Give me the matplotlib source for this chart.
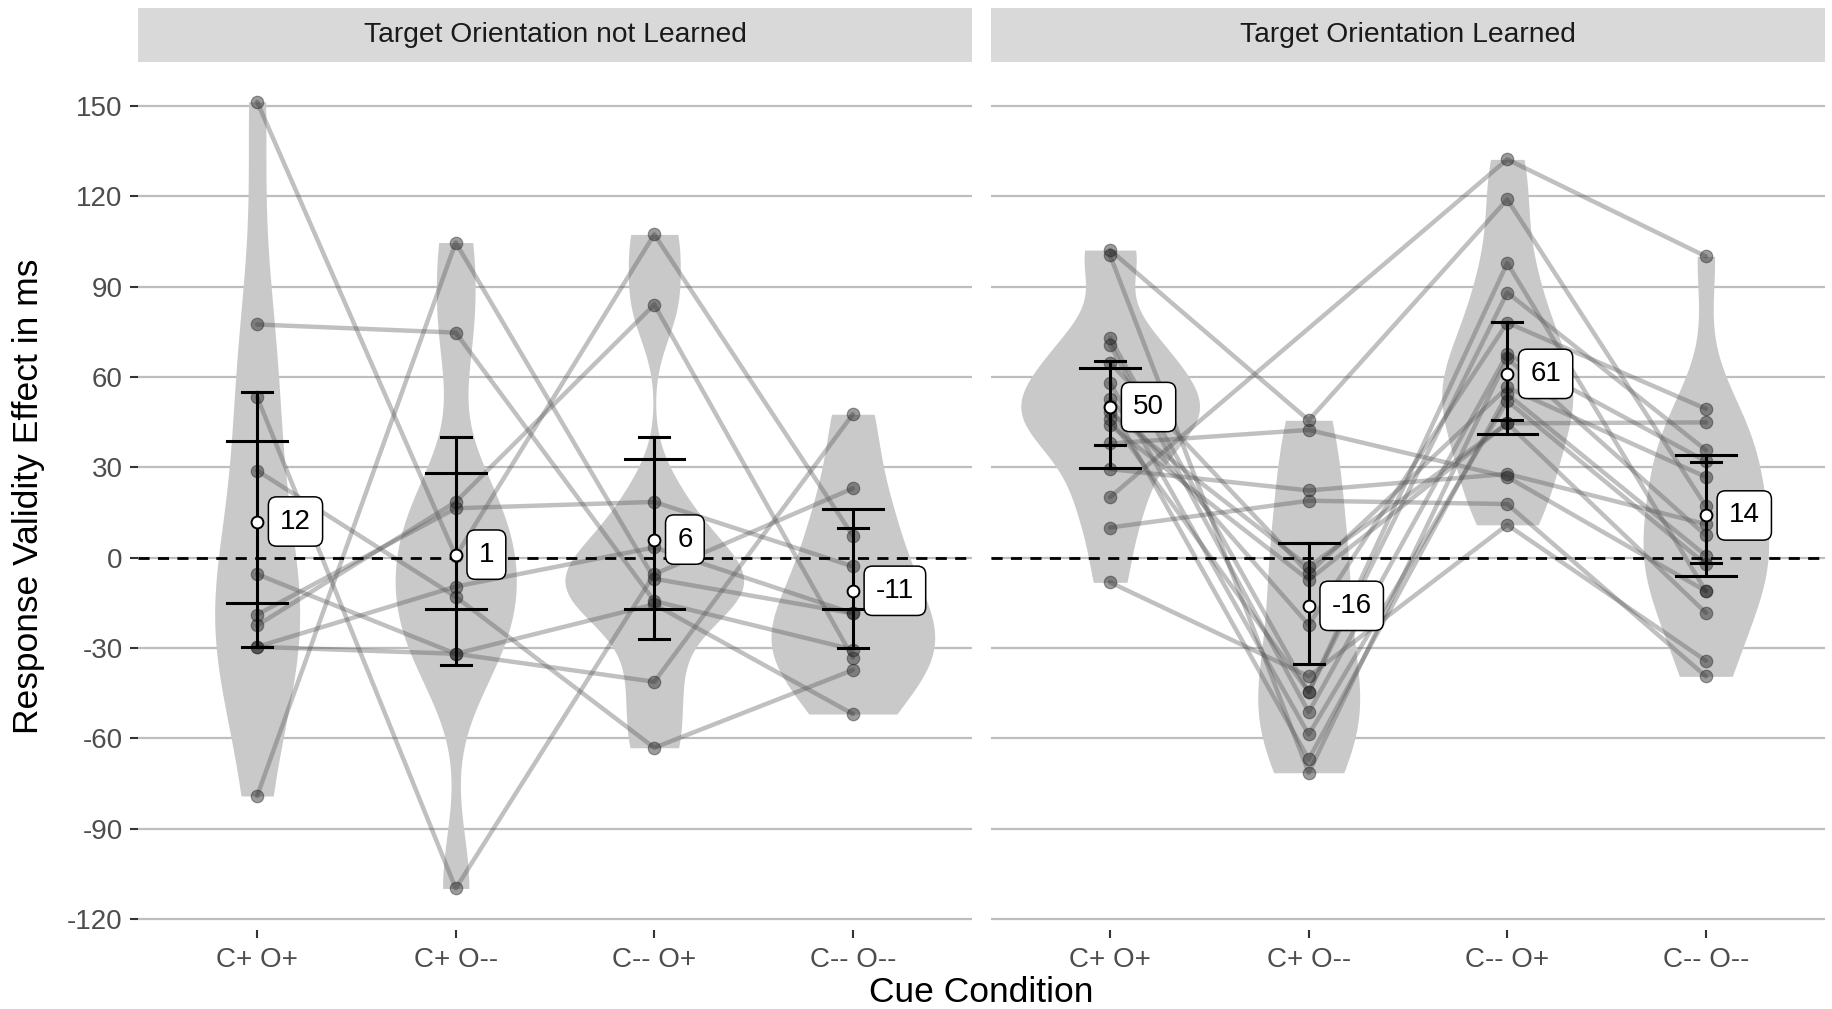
import numpy as np
import matplotlib.pyplot as plt

plt.rcParams['font.family'] = ['Liberation Sans', 'DejaVu Sans']
plt.rcParams['axes.unicode_minus'] = False

conditions = ['C+ O+', 'C+ O--', 'C-- O+', 'C-- O--']
panel_titles = ['Target Orientation not Learned', 'Target Orientation Learned']

# validity effect per subject (ms); columns follow `conditions`, nan = no data
not_learned = np.array([
    [151.3, 0.5, 107.3, 7.3],
    [77.4, 74.7, -14.4, -30.5],
    [53.3, -109.8, -5.5, 23.0],
    [28.9, -13.0, -63.1, -37.3],
    [-5.5, -31.9, -15.5, -51.9],
    [-18.9, 16.4, 18.5, -2.9],
    [-22.5, 18.5, 84.0, -33.2],
    [-29.6, -9.6, 3.4, -18.5],
    [-29.6, -31.9, -41.2, 47.6],
    [-79.1, 104.6, -7.0, -18.5],
])
learned = np.array([
    [102.1, 45.6, 118.9, 17.1],
    [100.3, -71.4, 66.2, 7.4],
    [72.8, -44.6, 88.0, 35.7],
    [70.6, -51.3, 67.6, 32.0],
    [64.7, -5.2, 56.5, 26.8],
    [58.0, -58.7, 52.0, -2.2],
    [52.8, -22.3, 78.0, 49.4],
    [50.5, -66.9, 54.3, 0.7],
    [48.3, -3.0, 44.6, 44.9],
    [46.1, -44.6, 97.8, -11.1],
    [43.9, -7.4, 44.6, -18.3],
    [37.9, 42.4, 26.8, -11.1],
    [29.4, 22.3, 27.8, 11.1],
    [20.1, np.nan, 132.2, 100.0],
    [10.0, 18.9, 17.8, -39.4],
    [-8.2, -39.4, 10.9, -34.2],
])

# model estimates (white dots and labels)
est_not_learned = [12, 1, 6, -11]
est_learned = [50, -16, 61, 14]

# intervals with narrow caps
narrow_lo_nl = [-29.7, -35.5, -26.9, -29.9]
narrow_hi_nl = [55.0, 39.9, 39.9, 10.0]
narrow_lo_l = [37.3, -35.3, 45.8, -1.7]
narrow_hi_l = [65.2, 5.0, 78.1, 31.6]
# intervals with wide caps
wide_lo_nl = [-15.1, -17.2, -17.2, -17.2]
wide_hi_nl = [38.7, 28.1, 32.7, 16.3]
wide_lo_l = [29.6, np.nan, 40.9, -6.2]
wide_hi_l = [63.0, 5.0, np.nan, 34.2]

yticks = [-120, -90, -60, -30, 0, 30, 60, 90, 120, 150]

W, H = 1832, 1009
fig = plt.figure(figsize=(W / 100, H / 100), dpi=100)

panel_x = [(138, 972), (991, 1825)]
top_px, bot_px = 63, 930
strip_top, strip_bot = 8, 62

panels = [
    (not_learned, est_not_learned, narrow_lo_nl, narrow_hi_nl, wide_lo_nl, wide_hi_nl),
    (learned, est_learned, narrow_lo_l, narrow_hi_l, wide_lo_l, wide_hi_l),
]

xs = np.arange(1, 5)


def violin_shape(vals):
    vals = np.sort(vals[~np.isnan(vals)])
    n = len(vals)
    sd = vals.std(ddof=1)
    q75, q25 = np.percentile(vals, [75, 25])
    bw = 0.9 * min(sd, (q75 - q25) / 1.34) * n ** -0.2
    grid = np.linspace(vals.min(), vals.max(), 512)
    dens = np.exp(-0.5 * ((grid[:, None] - vals[None, :]) / bw) ** 2).sum(1)
    dens /= n * bw * np.sqrt(2 * np.pi)
    return grid, dens


for i, (data, est, nlo, nhi, wlo, whi) in enumerate(panels):
    x0, x1 = panel_x[i]
    ax = fig.add_axes([x0 / W, 1 - bot_px / H, (x1 - x0) / W, (bot_px - top_px) / H])
    ax.set_xlim(0.4, 4.6)
    ax.set_ylim(-123.6, 164.2)
    for s in ax.spines.values():
        s.set_visible(False)
    ax.set_yticks(yticks)
    ax.set_xticks(xs)
    ax.set_xticklabels(conditions)
    ax.grid(axis='y', color='#BEBEBE', lw=1.6, zorder=0)
    ax.set_axisbelow(True)
    ax.tick_params(axis='both', colors='#333333', labelcolor='#4D4D4D',
                   labelsize=20, width=1.5, length=6)
    ax.tick_params(axis='x', pad=6)
    ax.tick_params(axis='y', pad=5)
    if i == 1:
        ax.tick_params(axis='y', left=False, labelleft=False)

    # violins, scaled by the largest density in the panel
    shapes = [violin_shape(data[:, k]) for k in range(4)]
    dmax = max(d.max() for _, d in shapes)
    for k, (grid, dens) in enumerate(shapes):
        half = 0.45 * dens / dmax
        ax.fill_betweenx(grid, xs[k] - half, xs[k] + half, color='#C9C9C9',
                         lw=0, zorder=1)

    # subject lines
    for row in data:
        m = ~np.isnan(row)
        ax.plot(xs[m], row[m], color='#555555', alpha=0.37, lw=3.2,
                solid_capstyle='round', zorder=2)

    # subject points
    for k in range(4):
        v = data[:, k]
        v = v[~np.isnan(v)]
        ax.plot(np.full(len(v), xs[k]), v, 'o', ms=9, color='#222222',
                alpha=0.45, mec='#222222', mew=0.8, zorder=3)

    ax.axhline(0, color='black', ls=(0, (4, 3)), lw=2, zorder=4)

    # error bars
    for k in range(4):
        ends = [e for e in (nlo[k], nhi[k], wlo[k], whi[k]) if not np.isnan(e)]
        ax.plot([xs[k], xs[k]], [min(ends), max(ends)], color='black', lw=2.2,
                zorder=5)
        for e in (nlo[k], nhi[k]):
            if not np.isnan(e):
                ax.plot([xs[k] - 0.075, xs[k] + 0.075], [e, e], color='black',
                        lw=2.2, zorder=5)
        for e in (wlo[k], whi[k]):
            if not np.isnan(e):
                ax.plot([xs[k] - 0.15, xs[k] + 0.15], [e, e], color='black',
                        lw=2.2, zorder=5)

    # estimates with value labels
    ax.plot(xs, est, 'o', ms=8.5, mfc='white', mec='black', mew=1.4, zorder=6)
    for k in range(4):
        ax.annotate(str(est[k]), (xs[k], est[k]), xytext=(16.5, 0),
                    textcoords='offset points', ha='left', va='center',
                    fontsize=20, color='black', zorder=7,
                    bbox=dict(boxstyle='round,pad=0.42,rounding_size=0.3',
                              fc='white', ec='black', lw=1.1))

    # facet strip
    sax = fig.add_axes([x0 / W, 1 - strip_bot / H, (x1 - x0) / W,
                        (strip_bot - strip_top) / H])
    sax.set_facecolor('#D9D9D9')
    sax.set_xticks([])
    sax.set_yticks([])
    for s in sax.spines.values():
        s.set_visible(False)
    sax.text(0.5, 0.5, panel_titles[i], ha='center', va='center',
             fontsize=20.3, color='#1A1A1A', transform=sax.transAxes)

fig.text(29 / W, 1 - 496 / H, 'Response Validity Effect in ms', rotation=90,
         ha='center', va='center', fontsize=25.5, color='black')
fig.text(981 / W, 1 - 993 / H, 'Cue Condition', ha='center', va='center',
         fontsize=25.5, color='black')

fig.savefig('out.png', dpi=100, facecolor='white')
